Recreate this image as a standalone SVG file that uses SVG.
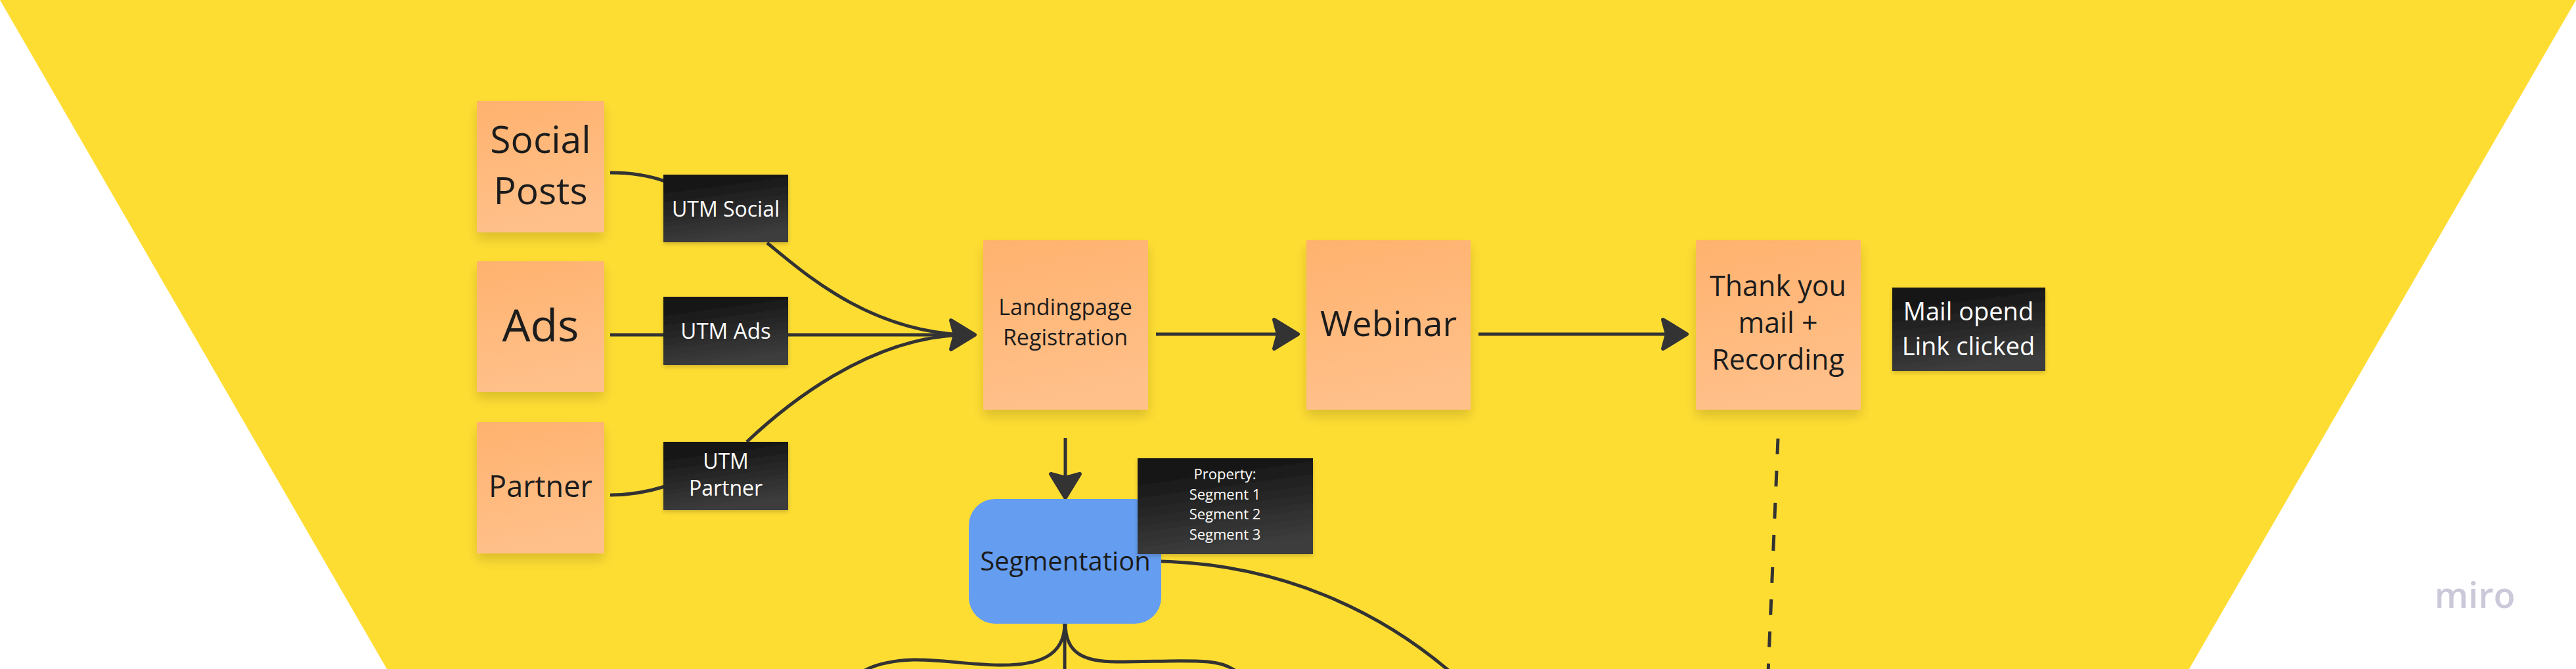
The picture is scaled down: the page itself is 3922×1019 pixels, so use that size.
<svg xmlns="http://www.w3.org/2000/svg" width="3922" height="1019" viewBox="0 0 3922 1019">
<defs>
<linearGradient id="gSticky" x1="0" y1="0" x2="0.2" y2="1">
<stop offset="0" stop-color="#FFB26E"/>
<stop offset="1" stop-color="#FFC08A"/>
</linearGradient>
<linearGradient id="gDark" x1="0" y1="0" x2="0.25" y2="1">
<stop offset="0.15" stop-color="#141414"/>
<stop offset="1" stop-color="#3C3C3C"/>
</linearGradient>
<filter id="shadow" x="-20%" y="-20%" width="140%" height="150%">
<feDropShadow dx="0" dy="10" stdDeviation="9" flood-color="#000" flood-opacity="0.14"/>
</filter>
<filter id="shadowS" x="-20%" y="-20%" width="140%" height="150%">
<feDropShadow dx="0" dy="3" stdDeviation="3" flood-color="#000" flood-opacity="0.18"/>
</filter>
<marker id="arr" markerUnits="userSpaceOnUse" markerWidth="80" markerHeight="80" viewBox="-50 -40 80 80" refX="0" refY="0" orient="auto" overflow="visible">
<path d="M-30,-22 L6,0 L-30,22 L-24,0 Z" fill="#333333" stroke="#333333" stroke-width="6" stroke-linejoin="round"/>
</marker>
<style>
.sticky{fill:url(#gSticky);filter:url(#shadow)}
.dark{fill:url(#gDark);filter:url(#shadowS)}
.t{font-family:"Open Sans","Noto Sans","Liberation Sans",sans-serif;fill:#1C1C1C;text-anchor:middle}
.w{font-family:"Open Sans","Noto Sans","Liberation Sans",sans-serif;fill:#FFFFFF;text-anchor:middle}
.con{fill:none;stroke:#333333;stroke-width:5}
</style>
</defs>
<rect x="0" y="0" width="3922" height="1019" fill="#FFFFFF"/>
<polygon points="0,0 3922,0 3333,1019 589,1019" fill="#FEDD33"/>

<g id="connectors">
<path class="con" d="M929,263 C960,263 990,268 1012,276"/>
<path class="con" d="M929,754 C960,754 990,748 1012,741"/>
<path class="con" d="M929,510 L1478,510" marker-end="url(#arr)"/>
<path class="con" d="M1168,370 C1220,412 1320,505 1470,510"/>
<path class="con" d="M1137,673 C1190,623 1320,512 1470,510"/>
<path class="con" d="M1760,509 L1970,509" marker-end="url(#arr)"/>
<path class="con" d="M2251,509 L2562,509" marker-end="url(#arr)"/>
<path class="con" d="M1622,667 L1622,752" marker-end="url(#arr)"/>
<path class="con" d="M2707,668 L2692,1025" stroke-dasharray="24 25" stroke-width="4"/>
<path class="con" d="M1621,950 L1621,1025"/>
<path class="con" d="M1621,950 C1621,1000 1580,1014 1520,1013 C1470,1012 1430,1004 1390,1005 C1360,1006 1330,1012 1310,1025"/>
<path class="con" d="M1622,950 C1622,995 1650,1008 1700,1008 C1760,1008 1800,1005 1840,1008 C1860,1010 1875,1016 1885,1025"/>
<path class="con" d="M1768,855 C1950,860 2100,930 2210,1025"/>
</g>

<g id="social-posts">
<rect class="sticky" x="726" y="154" width="194" height="200"/>
<text class="t" x="823" y="233" font-size="57">Social</text>
<text class="t" x="823" y="311" font-size="57">Posts</text>
</g>
<g id="ads">
<rect class="sticky" x="726" y="398" width="194" height="199"/>
<text class="t" x="823" y="520" font-size="68">Ads</text>
</g>
<g id="partner">
<rect class="sticky" x="726" y="643" width="194" height="200"/>
<text class="t" x="823" y="757" font-size="45">Partner</text>
</g>

<g id="utm-social">
<rect class="dark" x="1010" y="266" width="190" height="103"/>
<text class="w" x="1105" y="330" font-size="32">UTM Social</text>
</g>
<g id="utm-ads">
<rect class="dark" x="1010" y="452" width="190" height="104"/>
<text class="w" x="1105" y="516" font-size="33">UTM Ads</text>
</g>
<g id="utm-partner">
<rect class="dark" x="1010" y="673" width="190" height="104"/>
<text class="w" x="1105" y="714" font-size="32">UTM</text>
<text class="w" x="1105" y="755" font-size="32">Partner</text>
</g>

<g id="landingpage">
<rect class="sticky" x="1497" y="366" width="251" height="258"/>
<text class="t" x="1622" y="480" font-size="34">Landingpage</text>
<text class="t" x="1622" y="526" font-size="34">Registration</text>
</g>
<g id="webinar">
<rect class="sticky" x="1989" y="366" width="250" height="258"/>
<text class="t" x="2114" y="512" font-size="53">Webinar</text>
</g>
<g id="thank-you">
<rect class="sticky" x="2582" y="366" width="251" height="258"/>
<text class="t" x="2707" y="451" font-size="43">Thank you</text>
<text class="t" x="2707" y="507" font-size="43">mail +</text>
<text class="t" x="2707" y="563" font-size="43">Recording</text>
</g>
<g id="mail-opened">
<rect class="dark" x="2881" y="438" width="233" height="127"/>
<text class="w" x="2997" y="488" font-size="38">Mail opend</text>
<text class="w" x="2997" y="541" font-size="38">Link clicked</text>
</g>

<g id="segmentation">
<rect x="1475" y="760" width="293" height="190" rx="40" ry="40" fill="#659DF0"/>
<text class="t" x="1622" y="869" font-size="40">Segmentation</text>
</g>
<g id="property">
<rect class="dark" x="1732" y="698" width="267" height="146"/>
<text class="w" x="1865" y="730" font-size="22">Property:</text>
<text class="w" x="1865" y="761" font-size="22">Segment 1</text>
<text class="w" x="1865" y="791" font-size="22">Segment 2</text>
<text class="w" x="1865" y="822" font-size="22">Segment 3</text>
</g>

<text x="3768" y="926" font-family="'Open Sans','Noto Sans',sans-serif" font-weight="600" font-size="54" fill="#CBC8D9" text-anchor="middle">miro</text>
</svg>
